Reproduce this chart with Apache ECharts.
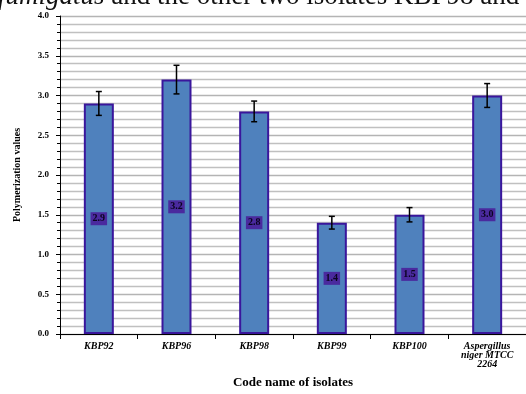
<!DOCTYPE html>
<html>
<head>
<meta charset="utf-8">
<script src="https://cdn.jsdelivr.net/npm/echarts@6/dist/echarts.min.js"></script>
<style>
  html, body { margin: 0; padding: 0; background: #fff; }
  #chart { width: 526px; height: 394px; }
</style>
</head>
<body>
<div id="chart"></div>
<script>
// Isolates and their measured means with standard errors
const categories = ['KBP92', 'KBP96', 'KBP98', 'KBP99', 'KBP100', 'Aspergillus\nniger MTCC\n2264'];
const values = [2.9, 3.2, 2.8, 1.4, 1.5, 3.0];
const errors = [0.15, 0.18, 0.13, 0.08, 0.09, 0.15];

const serif = '"Liberation Serif", "DejaVu Serif", serif';
const chart = echarts.init(document.getElementById('chart'), null, { renderer: 'canvas' });

const errorData = values.map((v, i) => [i, v - errors[i], v + errors[i]]);

chart.setOption({
  animation: false,
  graphic: [{
    type: 'text',
    left: -2,
    top: -17,
    style: {
      text: '{i|fumigatus} and the other two isolates KBP98 and',
      font: '27px ' + serif,
      fill: '#111',
      rich: { i: { fontStyle: 'italic', fontFamily: serif, fontSize: 27, fill: '#111' } }
    }
  }],
  grid: { left: 60, right: -2, top: 16, bottom: 56 },
  xAxis: {
    type: 'category',
    data: categories,
    boundaryGap: true,
    name: 'Code name of isolates',
    nameLocation: 'middle',
    nameGap: 42,
    nameTextStyle: { fontFamily: serif, fontWeight: 'bold', fontSize: 13, color: '#000' },
    axisLine: { lineStyle: { color: '#000', width: 1 } },
    axisTick: { show: true, length: 5, lineStyle: { color: '#000' } },
    axisLabel: {
      fontFamily: serif, fontWeight: 'bold', fontStyle: 'italic', fontSize: 10,
      color: '#000', lineHeight: 9, margin: 8
    }
  },
  yAxis: {
    type: 'value',
    min: 0,
    max: 4,
    interval: 0.5,
    name: 'Polymerization values',
    nameLocation: 'middle',
    nameGap: 38,
    nameTextStyle: { fontFamily: serif, fontWeight: 'bold', fontSize: 10, color: '#000' },
    axisLine: { show: true, lineStyle: { color: '#000', width: 1 } },
    axisTick: { show: true, length: 4, lineStyle: { color: '#000' } },
    minorTick: { show: true, splitNumber: 5, length: 3, lineStyle: { color: '#000' } },
    axisLabel: {
      fontFamily: serif, fontWeight: 'bold', fontSize: 9, color: '#000', margin: 11,
      formatter: v => v.toFixed(1)
    },
    splitLine: { show: true, lineStyle: { color: '#b4b4b4', width: 1.3 } },
    minorSplitLine: { show: true, lineStyle: { color: '#c0c0c0', width: 1.3 } }
  },
  series: [
    {
      type: 'bar',
      data: values,
      barWidth: 30,
      itemStyle: { color: '#4f81bd', borderColor: '#3a169c', borderWidth: 2 },
      label: {
        show: true,
        position: 'inside',
        formatter: p => p.value.toFixed(1),
        fontFamily: serif, fontWeight: 'bold', fontSize: 10, color: '#0a0420',
        backgroundColor: '#4a2a9e', padding: [2, 2, 1, 2]
      },
      z: 2
    },
    {
      type: 'custom',
      data: errorData,
      z: 5,
      renderItem: (params, api) => {
        const x = api.value(0);
        const lo = api.coord([x, api.value(1)]);
        const hi = api.coord([x, api.value(2)]);
        const cap = 3;
        const st = { stroke: '#000', lineWidth: 1.5 };
        return {
          type: 'group',
          children: [
            { type: 'line', shape: { x1: lo[0], y1: lo[1], x2: hi[0], y2: hi[1] }, style: st },
            { type: 'line', shape: { x1: hi[0] - cap, y1: hi[1], x2: hi[0] + cap, y2: hi[1] }, style: st },
            { type: 'line', shape: { x1: lo[0] - cap, y1: lo[1], x2: lo[0] + cap, y2: lo[1] }, style: st }
          ]
        };
      }
    }
  ]
});
</script>
</body>
</html>
